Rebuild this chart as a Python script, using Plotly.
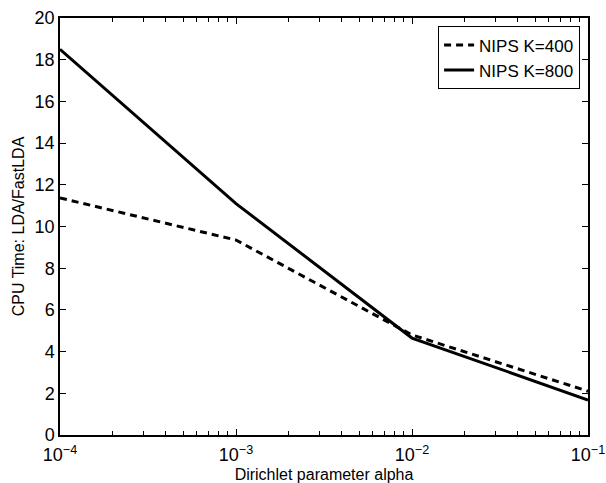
import plotly.graph_objects as go

alpha = [1e-4, 1e-3, 1e-2, 1e-1]
k400 = [11.37, 9.35, 4.8, 2.1]
k800 = [18.5, 11.1, 4.65, 1.68]
x_tickvals = [1e-4, 1e-3, 1e-2, 1e-1]
x_ticktext = ["10<sup>−4</sup>", "10<sup>−3</sup>", "10<sup>−2</sup>", "10<sup>−1</sup>"]
x_minor = [m * 10.0 ** e for e in (-4, -3, -2) for m in range(2, 10)]
y_tickvals = list(range(0, 21, 2))

fig = go.Figure()
fig.add_trace(go.Scatter(x=alpha, y=k400, mode="lines", name="NIPS K=400",
                         line=dict(color="black", width=3, dash="7px,5px")))
fig.add_trace(go.Scatter(x=alpha, y=k800, mode="lines", name="NIPS K=800",
                         line=dict(color="black", width=3)))

font = dict(family="Liberation Sans, Arial, sans-serif", size=16, color="black")
fig.update_layout(
    width=606, height=483,
    margin=dict(l=60, r=18, t=18, b=48),
    paper_bgcolor="white", plot_bgcolor="white",
    font=font,
    showlegend=True,
    legend=dict(x=0.985, y=0.98, xanchor="right", yanchor="top",
                bordercolor="black", borderwidth=1, bgcolor="white",
                font=dict(size=17), tracegroupgap=0),
    xaxis=dict(type="log", range=[-4, -1], tickvals=x_tickvals, ticktext=x_ticktext,
               ticks="inside", ticklen=6, tickcolor="black", showgrid=False, zeroline=False,
               showline=True, linecolor="black", linewidth=1.5, mirror="ticks",
               ticklabelstandoff=3, automargin=False,
               minor=dict(tickvals=x_minor, ticks="inside", ticklen=4, tickcolor="black",
                          showgrid=False),
               title=dict(text="Dirichlet parameter alpha", standoff=6, font=dict(size=16)),
               tickfont=dict(size=18)),
    yaxis=dict(range=[0, 20], tickvals=y_tickvals, ticks="inside", ticklen=6,
               tickcolor="black", showgrid=False, zeroline=False, automargin=False,
               showline=True, linecolor="black", linewidth=1.5, mirror="ticks",
               title=dict(text="CPU Time: LDA/FastLDA", standoff=6, font=dict(size=16)),
               tickfont=dict(size=18)),
)
fig.write_html("out.html")
